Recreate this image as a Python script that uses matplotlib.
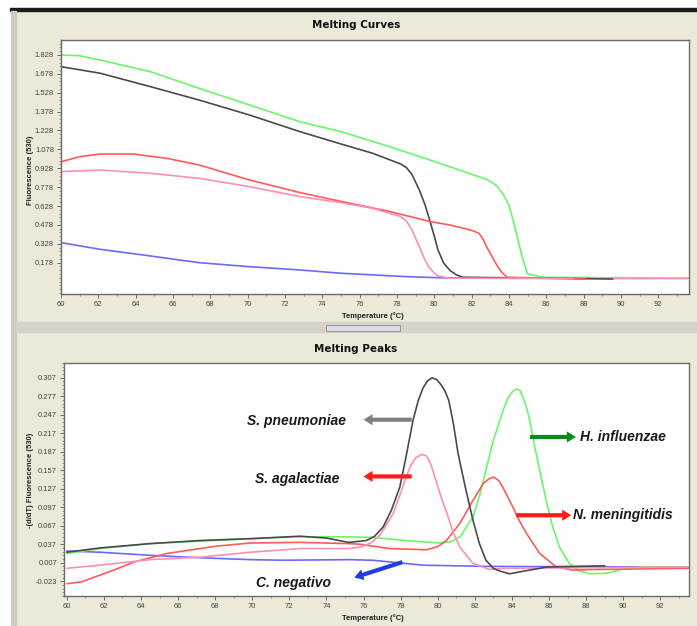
import numpy as np
import matplotlib
matplotlib.use("Agg")
import matplotlib.pyplot as plt
from matplotlib.patches import Rectangle
from matplotlib.ticker import AutoMinorLocator

# ---- melting curves (top panel) ----
curve_green_t = [60, 61.0, 62.1, 64.8, 67.4, 70.1, 72.8, 75.0, 77.6, 80.3, 82.8, 83.35, 83.7, 84.0, 84.2, 84.4, 84.7, 85.0, 85.85, 93.6]
curve_green = [1.828, 1.822, 1.788, 1.695, 1.563, 1.431, 1.298, 1.219, 1.10, 0.967, 0.840, 0.790, 0.720, 0.636, 0.530, 0.411, 0.230, 0.088, 0.062, 0.055]

curve_black_t = [60, 62.1, 64.8, 67.4, 70.1, 72.8, 75.0, 76.7, 78.2, 78.5, 78.8, 79.2, 79.5, 79.7, 80.0, 80.2, 80.5, 80.85, 81.2, 81.55, 89.6]
curve_black = [1.735, 1.683, 1.576, 1.470, 1.351, 1.219, 1.121, 1.047, 0.962, 0.935, 0.880, 0.755, 0.640, 0.544, 0.390, 0.279, 0.175, 0.115, 0.080, 0.062, 0.048]

curve_red_t = [60, 61.0, 62.1, 63.9, 65.7, 67.4, 70.1, 72.8, 75.0, 77.6, 79.8, 80.85, 82.0, 82.4, 82.6, 82.8, 83.1, 83.35, 83.6, 83.9, 88.1]
curve_red = [0.980, 1.020, 1.041, 1.041, 1.006, 0.954, 0.835, 0.735, 0.665, 0.585, 0.504, 0.477, 0.435, 0.411, 0.370, 0.305, 0.225, 0.159, 0.105, 0.062, 0.048]

curve_pink_t = [60, 62.1, 64.8, 67.4, 70.1, 72.8, 75.0, 76.7, 78.2, 78.5, 78.8, 79.2, 79.5, 79.7, 80.0, 80.2, 80.8, 87.4, 88.5, 89.6, 93.6]
curve_pink = [0.901, 0.914, 0.888, 0.848, 0.782, 0.703, 0.655, 0.610, 0.544, 0.510, 0.440, 0.305, 0.200, 0.146, 0.095, 0.072, 0.055, 0.052, np.nan, 0.052, 0.052]

curve_blue_t = [60, 62.1, 64.8, 67.4, 70.1, 72.8, 75.0, 78.5, 80.3, 83.1]
curve_blue = [0.337, 0.284, 0.231, 0.178, 0.146, 0.120, 0.094, 0.067, 0.058, 0.055]

# ---- melting peaks (bottom panel) ----
peak_black_t = [60, 61.8, 64.5, 67.2, 69.9, 72.57, 74.0, 75.2, 76.16, 76.6, 77.06, 77.5, 77.96, 78.3, 78.67, 78.95, 79.2, 79.45, 79.7, 79.95,
                80.2, 80.4, 80.6, 80.85, 81.1, 81.5, 81.9, 82.25, 82.6, 83.0, 83.3, 83.86, 84.76, 85.9, 89.0]
peak_black = [0.024, 0.031, 0.038, 0.043, 0.046, 0.050, 0.047, 0.040, 0.043, 0.050, 0.065, 0.092, 0.130, 0.180, 0.238, 0.270, 0.290, 0.302, 0.307, 0.304,
              0.295, 0.285, 0.270, 0.232, 0.184, 0.128, 0.076, 0.038, 0.011, -0.002, -0.006, -0.011, -0.006, 0.0, 0.002]

peak_pink_t = [60, 61.8, 64.5, 67.2, 69.9, 72.57, 75.2, 75.8, 76.4, 76.9, 77.6, 78.0, 78.3, 78.55, 78.8, 79.16, 79.4, 79.65, 79.9, 80.2, 80.5,
               80.85, 81.2, 81.9, 82.8, 83.7, 93.5]
peak_pink = [-0.002, 0.003, 0.012, 0.016, 0.024, 0.030, 0.030, 0.032, 0.039, 0.052, 0.087, 0.120, 0.146, 0.165, 0.177, 0.183, 0.180, 0.165, 0.141, 0.112, 0.087,
             0.055, 0.032, 0.006, -0.004, -0.002, 0.0]

peak_red_t = [60, 60.8, 61.8, 62.7, 63.6, 65.4, 68.1, 69.9, 72.57, 75.2, 75.8, 77.4, 79.4, 80.0, 80.47, 81.2, 81.9, 82.45, 82.75, 83.02, 83.3,
              83.5, 84.06, 84.4, 84.8, 85.5, 86.4, 87.3, 88.4, 93.5]
peak_red = [-0.027, -0.024, -0.013, -0.003, 0.008, 0.022, 0.034, 0.039, 0.040, 0.038, 0.037, 0.030, 0.028, 0.033, 0.043, 0.071, 0.108, 0.135, 0.143, 0.146, 0.140,
            0.130, 0.097, 0.075, 0.054, 0.022, 0.0, -0.005, -0.004, -0.002]

peak_green_t = [60, 61.8, 64.5, 67.2, 69.9, 72.57, 75.2, 76.5, 78.3, 80.1, 80.7, 81.2, 81.9, 82.25, 82.6, 82.95, 83.35, 83.6, 83.8, 84.05, 84.25,
                84.45, 84.6, 84.8, 84.96, 85.2, 85.5, 85.85, 86.2, 86.6, 87.1, 87.6, 88.2, 89.1, 90.2, 90.9, 93.5]
peak_green = [0.022, 0.030, 0.038, 0.042, 0.046, 0.049, 0.049, 0.048, 0.043, 0.039, 0.041, 0.049, 0.081, 0.115, 0.157, 0.200, 0.238, 0.260, 0.275, 0.285, 0.289,
              0.286, 0.275, 0.258, 0.238, 0.200, 0.157, 0.108, 0.065, 0.030, 0.006, -0.006, -0.011, -0.010, -0.002, 0.0, 0.0]

peak_blue_t = [60, 61.8, 64.5, 67.2, 69.9, 71.7, 75.2, 76.5, 79.2, 82.8, 93.5]
peak_blue = [0.026, 0.024, 0.019, 0.015, 0.012, 0.011, 0.012, 0.011, 0.003, 0.001, 0.0]

x_ticks = list(range(60, 93, 2))
curve_ticks = [0.178, 0.328, 0.478, 0.628, 0.778, 0.928, 1.078, 1.228, 1.378, 1.528, 1.678, 1.828]
peak_ticks = [-0.023, 0.007, 0.037, 0.067, 0.097, 0.127, 0.157, 0.187, 0.217, 0.247, 0.277, 0.307]

# label text, text anchor, alignment, arrow tail, arrow head, arrow colour
species = [
    ("S. pneumoniae", (72.4, 0.237), "center", (78.6, 0.239), (76.0, 0.239), "#808080"),
    ("S. agalactiae", (72.4, 0.142), "center", (78.6, 0.147), (76.0, 0.147), "#ff1a1a"),
    ("H. influenzae", (87.65, 0.211), "left", (84.98, 0.211), (87.45, 0.211), "#0a8a1a"),
    ("N. meningitidis", (87.3, 0.084), "left", (84.24, 0.084), (87.2, 0.084), "#ff1a1a"),
    ("C. negativo", (72.2, -0.026), "center", (78.1, 0.008), (75.5, -0.017), "#1f3fe6"),
]

C_GREEN, C_BLACK, C_RED, C_PINK, C_BLUE = "#6cf56c", "#4a4a4a", "#ff5a5a", "#ff8fb0", "#6a6aff"
BG = "#ece9d8"
W, H = 697, 626

fig = plt.figure(figsize=(W / 100, H / 100), dpi=100)
fig.patch.set_facecolor(BG)

def px(x0, y0, w, h):
    # pixel box (from top-left) -> figure fraction
    return [x0 / W, 1 - (y0 + h) / H, w / W, h / H]

# window chrome
fig.patches.append(Rectangle((0, 0), 10 / W, 1, transform=fig.transFigure, color="white", zorder=0))
fig.patches.append(Rectangle((0, 1 - 8 / H), 1, 8 / H, transform=fig.transFigure, color="white", zorder=0))
fig.patches.append(Rectangle((10 / W, 1 - 11 / H), 1, 3 / H, transform=fig.transFigure, color="#1a1a1a", zorder=1))
fig.patches.append(Rectangle((11 / W, 0), 5 / W, 1 - 11 / H, transform=fig.transFigure, color="#cfcbbd", zorder=1))
fig.patches.append(Rectangle((16 / W, 1 - 332 / H), 1, 10 / H, transform=fig.transFigure, color="#d6d3c6", zorder=1))
fig.patches.append(Rectangle((326 / W, 1 - 331 / H), 74 / W, 6 / H, transform=fig.transFigure,
                             facecolor="#dcdce8", edgecolor="#8a8aa8", lw=0.6, zorder=2))

ax1 = fig.add_axes(px(61, 40, 628, 254))
ax2 = fig.add_axes(px(64, 363, 625, 233))

for ax in (ax1, ax2):
    ax.set_facecolor("white")
    for s in ax.spines.values():
        s.set_color("#6b6b6b")
        s.set_linewidth(1.0)
    ax.set_xticks(x_ticks)
    ax.xaxis.set_minor_locator(AutoMinorLocator(2))
    ax.yaxis.set_minor_locator(AutoMinorLocator(5))
    ax.tick_params(which="major", length=3, width=0.6, color="#555555", labelsize=5.5,
                   labelcolor="#444444", pad=2)
    ax.tick_params(which="minor", length=1.5, width=0.5, color="#777777")
    for lab in ax.get_xticklabels() + ax.get_yticklabels():
        lab.set_fontfamily("Liberation Sans")

line_kw = dict(lw=1.2, solid_joinstyle="round", solid_capstyle="round")
ax1.plot(curve_blue_t, curve_blue, color=C_BLUE, **line_kw)
ax1.plot(curve_green_t, curve_green, color=C_GREEN, **line_kw)
ax1.plot(curve_black_t, curve_black, color=C_BLACK, **line_kw)
ax1.plot(curve_red_t, curve_red, color=C_RED, **line_kw)
ax1.plot(curve_pink_t, curve_pink, color=C_PINK, **line_kw)
ax1.set_xlim(60, 93.65)
ax1.set_ylim(-0.071, 1.947)
ax1.set_yticks(curve_ticks)
ax1.set_yticklabels([f"{v:.3f}" for v in curve_ticks], fontfamily="Liberation Sans")

ax2.plot(peak_blue_t, peak_blue, color=C_BLUE, **line_kw)
ax2.plot(peak_green_t, peak_green, color=C_GREEN, **line_kw)
ax2.plot(peak_red_t, peak_red, color=C_RED, **line_kw)
ax2.plot(peak_pink_t, peak_pink, color=C_PINK, **line_kw)
ax2.plot(peak_black_t, peak_black, color=C_BLACK, **line_kw)
ax2.set_xlim(59.85, 93.55)
ax2.set_ylim(-0.047, 0.331)
ax2.set_yticks(peak_ticks)
ax2.set_yticklabels([f"{v:.3f}" for v in peak_ticks], fontfamily="Liberation Sans")

for name, pos, ha, tail, head, col in species:
    ax2.text(pos[0], pos[1], name, ha=ha, va="center", fontsize=10, fontweight="bold",
             fontstyle="italic", color="#1a1a1a", family="Liberation Sans")
    ax2.annotate("", xy=head, xytext=tail,
                 arrowprops=dict(arrowstyle="simple,head_width=0.8,head_length=0.65,tail_width=0.3",
                                 color=col, lw=0, shrinkA=0, shrinkB=0))

lab_kw = dict(fontsize=5.5, fontweight="bold", color="#222222", family="Liberation Sans")
fig.text(356 / W, 1 - 25 / H, "Melting Curves", ha="center", va="center",
         fontsize=7.5, fontweight="bold", color="#111111")
fig.text(356 / W, 1 - 349 / H, "Melting Peaks", ha="center", va="center",
         fontsize=7.5, fontweight="bold", color="#111111")
fig.text(373 / W, 1 - 316 / H, "Temperature (°C)", ha="center", va="center", **lab_kw)
fig.text(373 / W, 1 - 618 / H, "Temperature (°C)", ha="center", va="center", **lab_kw)
fig.text(30 / W, 1 - 170 / H, "Fluorescence (530)", ha="center", va="center", rotation=90, **lab_kw)
fig.text(31 / W, 1 - 480 / H, "-(d/dT) Fluorescence (530)", ha="center", va="center", rotation=90, **lab_kw)

fig.savefig("out.png", dpi=100, facecolor=fig.get_facecolor())
